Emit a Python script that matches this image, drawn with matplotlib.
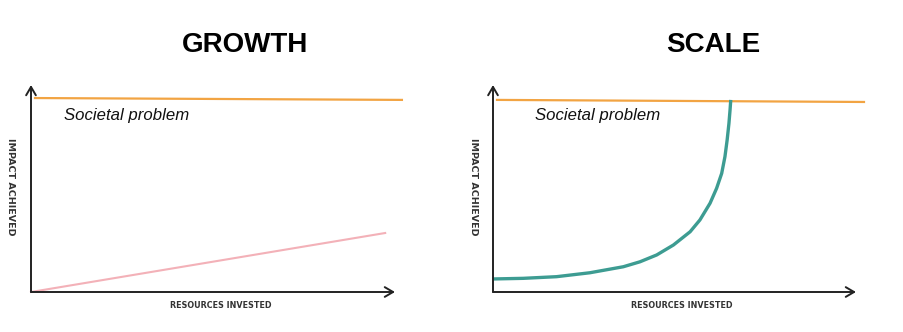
import matplotlib.pyplot as plt

# data (axis units 0..10)
problem_growth_x = [0.11, 10.19]
problem_growth_y = [9.37, 9.28]
growth_x = [0.0, 9.73]
growth_y = [0.0, 2.85]

problem_scale_x = [0.11, 10.22]
problem_scale_y = [9.28, 9.18]
scale_x = [0.0, 0.83, 1.75, 2.67, 3.59, 4.05, 4.51, 4.97, 5.43, 5.70, 5.98, 6.16, 6.30, 6.39, 6.45, 6.50, 6.53, 6.55]
scale_y = [0.63, 0.66, 0.74, 0.93, 1.22, 1.46, 1.79, 2.27, 2.91, 3.48, 4.29, 5.01, 5.73, 6.54, 7.34, 8.15, 8.79, 9.28]

titles = ["GROWTH", "SCALE"]
xlabel = "RESOURCES INVESTED"
ylabel = "IMPACT ACHIEVED"
note = "Societal problem"

orange = "#f2a443"
pink = "#f3b1b8"
teal = "#3d9c92"
axcol = "#222222"

fig = plt.figure(figsize=(9.04, 3.32), dpi=100)
W, H = 904, 332


def panel(x0, x1):
    ax = fig.add_axes([x0 / W, 40 / H, (x1 - x0) / W, 207 / H])
    ax.set_xlim(0, 10)
    ax.set_ylim(0, 10)
    ax.axis('off')
    # arrows for axes
    for tip in [(10, 0), (0, 10)]:
        ax.annotate('', xy=tip, xytext=(0, 0),
                    arrowprops=dict(arrowstyle='->,head_length=0.6,head_width=0.35', color=axcol, lw=1.4,
                                    shrinkA=0, shrinkB=0), annotation_clip=False)
    ax.text(5.2, -0.65, xlabel, ha='center', va='center', fontsize=5.8, fontweight='bold',
            color='#333333', family='DejaVu Sans')
    ax.text(-0.55, 5.1, ylabel, ha='center', va='center', fontsize=6.8, fontweight='bold',
            color='#333333', rotation=-90, family='DejaVu Sans')
    return ax


ax1 = panel(31, 395)
ax1.plot(problem_growth_x, problem_growth_y, color=orange, lw=1.6, clip_on=False)
ax1.plot(growth_x, growth_y, color=pink, lw=1.5, clip_on=False)
ax1.text(0.9, 8.55, note, fontsize=12.1, style='italic', family='Liberation Sans',
         va='center', color='#111111')

ax2 = panel(493, 856)
ax2.plot(problem_scale_x, problem_scale_y, color=orange, lw=1.6, clip_on=False)
ax2.plot(scale_x, scale_y, color=teal, lw=2.4, clip_on=False,
         solid_capstyle='butt', solid_joinstyle='round')
ax2.text(1.15, 8.55, note, fontsize=12.1, style='italic', family='Liberation Sans',
         va='center', color='#111111')

fig.text(245 / W, 1 - 45 / H, titles[0], ha='center', va='center', fontsize=20,
         fontweight='bold', family='Liberation Sans')
fig.text(713 / W, 1 - 45 / H, titles[1], ha='center', va='center', fontsize=20,
         fontweight='bold', family='Liberation Sans')

fig.savefig('out.png', dpi=100, facecolor='white')
